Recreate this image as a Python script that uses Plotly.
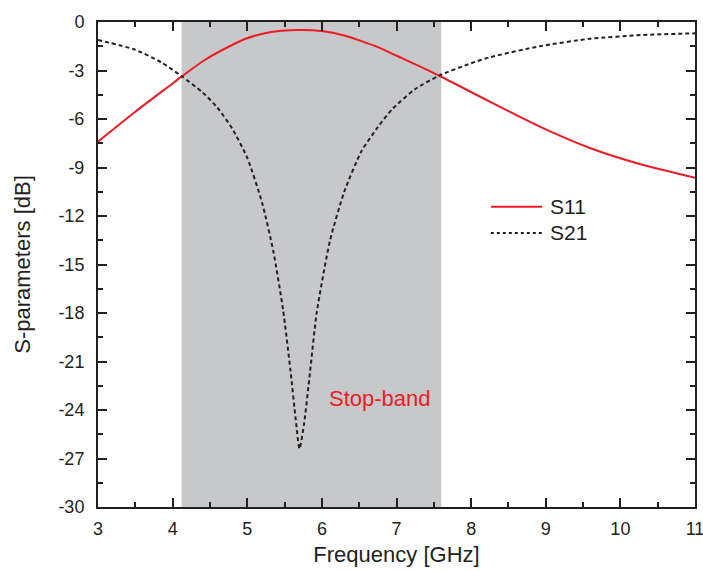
import plotly.graph_objects as go

# ---- data ----
freq_s11 = [3.0, 3.5, 4.0, 4.12, 4.43, 4.75, 4.97, 5.19, 5.46, 5.73, 6.0, 6.31, 6.53, 6.76, 6.98,
            7.58, 8.25, 8.92, 9.6, 10.27, 11.0]
s11_db = [-7.40, -5.55, -3.80, -3.38, -2.35, -1.53, -1.05, -0.74, -0.54, -0.49, -0.56, -0.85, -1.18, -1.57, -2.04,
          -3.34, -4.93, -6.47, -7.81, -8.80, -9.63]

freq_s21 = [3.0, 3.5, 3.85, 4.12, 4.4, 4.6, 4.8, 5.0, 5.2, 5.35, 5.48, 5.58, 5.65, 5.70, 5.76, 5.84, 5.93,
            6.11, 6.3, 6.53, 6.75, 6.94, 7.25, 7.58, 8.0, 8.25, 8.92, 9.6, 10.27, 11.0]
s21_db = [-1.11, -1.72, -2.50, -3.35, -4.35, -5.30, -6.60, -8.40, -11.2, -14.2, -17.8, -21.6, -24.6, -26.4, -24.9,
          -21.7, -18.0, -13.5, -10.5, -8.0, -6.5, -5.4, -4.15, -3.3, -2.55, -2.18, -1.50, -1.03, -0.81, -0.70]

stop_band = [4.12, 7.60]
x_ticks = [3, 4, 5, 6, 7, 8, 9, 10, 11]
y_ticks = [0, -3, -6, -9, -12, -15, -18, -21, -24, -27, -30]
series_names = ["S11", "S21"]
band_label = "Stop-band"

FONT = "Liberation Sans, Arial, sans-serif"
RED = "#ed1c24"
DARK = "#231f20"

fig = go.Figure()
fig.add_trace(go.Scatter(x=freq_s11, y=s11_db, mode="lines", name=series_names[0],
                         line=dict(color=RED, width=2, shape="spline", smoothing=0.8)))
fig.add_trace(go.Scatter(x=freq_s21, y=s21_db, mode="lines", name=series_names[1],
                         line=dict(color=DARK, width=2, dash="4px,3px", shape="spline", smoothing=0.6)))

fig.add_shape(type="rect", xref="x", yref="y", x0=stop_band[0], x1=stop_band[1], y0=-30, y1=0,
              fillcolor="#c7c8ca", line=dict(width=0), layer="below")

fig.add_annotation(x=6.78, y=-23.3, xref="x", yref="y", text=band_label, showarrow=False,
                   font=dict(family=FONT, size=22, color=RED))

# manual legend
leg = [(series_names[0], dict(color=RED, width=2), 0.619),
       (series_names[1], dict(color=DARK, width=2, dash="3px,3px"), 0.565)]
for name, ln, yy in leg:
    fig.add_shape(type="line", xref="paper", yref="paper", x0=0.658, x1=0.744, y0=yy, y1=yy, line=ln)
    fig.add_annotation(x=0.754, y=yy, xref="paper", yref="paper", text=name, showarrow=False,
                       xanchor="left", yanchor="middle", font=dict(family=FONT, size=21, color=DARK))

axis_common = dict(showgrid=False, zeroline=False, showline=True, linecolor=DARK, linewidth=2,
                   mirror="allticks", ticks="inside", ticklen=9, tickwidth=2, tickcolor=DARK,
                   automargin=False, ticklabeloverflow="allow",
                   tickfont=dict(family=FONT, size=18, color=DARK))

fig.update_xaxes(range=[3, 11], tickvals=x_ticks, ticktext=[str(v) for v in x_ticks],
                 minor=dict(ticks="inside", ticklen=5, tickwidth=2, tickcolor=DARK, dtick=0.5),
                 title=dict(text="Frequency [GHz]", font=dict(family=FONT, size=22, color=DARK), standoff=9),
                 ticklabelstandoff=4, **axis_common)
fig.update_yaxes(range=[-30, 0], tickvals=y_ticks, ticktext=[str(v) for v in y_ticks],
                 minor=dict(ticks="inside", ticklen=5, tickwidth=2, tickcolor=DARK, dtick=1.5),
                 title=dict(text="S-parameters [dB]", font=dict(family=FONT, size=22, color=DARK), standoff=22),
                 ticklabelstandoff=8, **axis_common)

fig.update_layout(width=703, height=571, margin=dict(l=98, r=8, t=22, b=64),
                  plot_bgcolor="white", paper_bgcolor="white", showlegend=False,
                  font=dict(family=FONT, color=DARK))

fig.write_html("out.html")
